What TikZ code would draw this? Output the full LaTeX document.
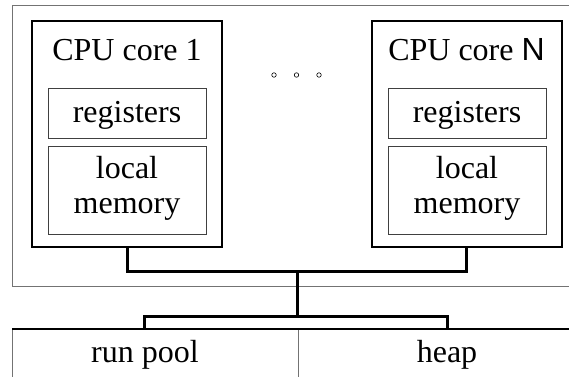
\documentclass[tikz,border=0pt]{standalone}
\usepackage{fontspec}
\setmainfont{Liberation Serif}
\newfontfamily\nsans{Liberation Sans}
\begin{document}
\begin{tikzpicture}[x=1pt,y=-1pt,
  every node/.style={inner sep=0pt,outer sep=0pt},
  txt/.style={font=\fontsize{32}{35}\selectfont,align=center},
  corebox/.style={draw=black,line width=2pt,minimum width=190pt,minimum height=225.5pt},
  innerbox/.style={draw=black!75,line width=1pt,minimum width=158pt},
  outerbox/.style={draw=black!55,line width=1pt},
  bus/.style={draw=black,line width=3pt},
  dotmark/.style={circle,draw=black,line width=0.6pt,minimum size=4.5pt}]
\clip (0,0) rectangle (569,376);
\useasboundingbox (0,0) rectangle (569,376);
% host outer box
\node[outerbox,minimum width=600pt,minimum height=280.5pt,anchor=north west] (host) at (12,5.5) {};
% cores
\node[corebox] (core1) at (127,134.2) {};
\node[corebox] (coreN) at (466.5,134.2) {};
\node[txt,anchor=base] (t1) at (127,60) {CPU core 1};
\node[txt,anchor=base] (tN) at (466.5,60) {CPU core {\nsans N}};
\node[innerbox,minimum height=50pt] (reg1) at (127,113) {};
\node[innerbox,minimum height=50pt] (regN) at (467,113.5) {};
\node[txt,anchor=base] (rt1) at (127,122) {registers};
\node[txt,anchor=base] (rtN) at (467,122) {registers};
\node[innerbox,minimum height=88pt] (loc1) at (127,190) {};
\node[innerbox,minimum height=88pt] (locN) at (467,190) {};
\node[txt,anchor=base] (lt1) at (127,178) {local};
\node[txt,anchor=base] (lm1) at (127,213) {memory};
\node[txt,anchor=base] (ltN) at (467,178) {local};
\node[txt,anchor=base] (lmN) at (467,213) {memory};
% dots
\node[dotmark] (d1) at (274,75) {};
\node[dotmark] (d2) at (296.5,75) {};
\node[dotmark] (d3) at (319,75) {};
% bottom boxes
\node[outerbox,minimum width=286pt,minimum height=80pt,anchor=north west] (pool) at (12,329) {};
\node[outerbox,minimum width=300pt,minimum height=80pt,anchor=north west] (heap) at (298,329) {};
\draw[black,line width=1.5pt] (pool.north west) -- (heap.north east);
\node[txt,anchor=base] (pt) at (145,362) {run pool};
\node[txt,anchor=base] (ht) at (447,362) {heap};
% bus
\coordinate (j1) at (297,271);
\coordinate (j2) at (297,316);
\coordinate (s1) at (144,329);
\coordinate (s2) at (447,329);
\draw[bus] (core1.south) |- (j1) -| (coreN.south);
\draw[bus] (j1) -- (j2);
\draw[bus] (s1) |- (j2) -| (s2);
\end{tikzpicture}
\end{document}
